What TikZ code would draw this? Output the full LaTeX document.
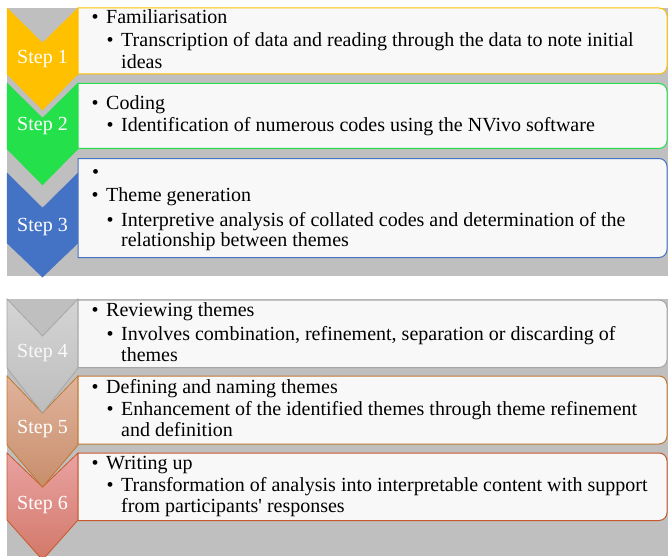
\documentclass[tikz,border=0pt]{standalone}
\usepackage{fontspec}
\setmainfont{Liberation Serif}
\definecolor{bggray}{HTML}{BFBFBF}
\definecolor{boxfill}{HTML}{F8F8F8}
\definecolor{cyellow}{HTML}{FFC000}
\definecolor{cgreen}{HTML}{24E04A}
\definecolor{cblue}{HTML}{4472C4}
\definecolor{cgrayA}{HTML}{D4D4D4}
\definecolor{cgrayB}{HTML}{BDBDBD}
\definecolor{cgrayL}{HTML}{A6A6A6}
\definecolor{ctanA}{HTML}{E0B39C}
\definecolor{ctanB}{HTML}{C88E6C}
\definecolor{ctanL}{HTML}{C07830}
\definecolor{credA}{HTML}{E9A2A2}
\definecolor{credB}{HTML}{D27868}
\definecolor{credL}{HTML}{C8582C}
\newcommand\chevshape[5]{%
  \draw[#5] (7,#1) -- (42.5,#2) -- (78,#1) -- (78,#3) -- (42.5,#4) -- (7,#3) -- cycle;}
\newcommand\roundbox[3]{%
  \draw[boxstyle,draw=#3] (78,#1) -- (659,#1) arc[start angle=90,end angle=0,radius=8pt]
    -- (667,#2-8) arc[start angle=0,end angle=-90,radius=8pt] -- (78,#2) -- cycle;}
\newcommand\bl{\makebox[0pt][r]{•\hspace{7.5pt}}}
\begin{document}
\begin{tikzpicture}[x=1pt,y=-1pt,
  boxstyle/.style={fill=boxfill,line width=1pt},
  txt/.style={inner sep=0pt,anchor=base west,font=\fontsize{20}{20.6}\selectfont},
  steplabel/.style={inner sep=0pt,anchor=base,text=white,font=\fontsize{20}{20.6}\selectfont}]
\useasboundingbox (0,0) rectangle (668,556);
\fill[white] (0,0) rectangle (668,556);
\fill[bggray] (7,8) rectangle (668,276);
\fill[bggray] (7,299) rectangle (668,556);
% lower panel chevrons (earlier on top)
\chevshape{453}{487}{520}{560}{top color=credA,bottom color=credB,draw=credL,line width=0.8pt}
\chevshape{376}{413}{445}{487}{top color=ctanA,bottom color=ctanB,draw=ctanL,line width=0.8pt}
\chevshape{299}{336}{368}{413}{top color=cgrayA,bottom color=cgrayB,draw=cgrayL,line width=0.8pt}
% upper panel chevrons
\chevshape{173}{208}{243}{277}{fill=cblue,draw=cblue}
\chevshape{83}{118}{149}{185}{fill=cgreen,draw=cgreen}
\chevshape{8}{43}{74}{110}{fill=cyellow,draw=cyellow}
% boxes
\roundbox{8}{74}{cyellow}
\roundbox{83.5}{148.5}{cgreen}
\roundbox{158.5}{257.5}{cblue}
\roundbox{300}{367.5}{cgrayL}
\roundbox{376}{444}{ctanL}
\roundbox{453}{520.5}{credL}
% step labels
\node[steplabel] (s1) at (42.5,64) {Step 1};
\node[steplabel] (s2) at (42.5,131) {Step 2};
\node[steplabel] (s3) at (42.5,231) {Step 3};
\node[steplabel,text=white!95!gray] (s4) at (42.5,357) {Step 4};
\node[steplabel] (s5) at (42.5,433.5) {Step 5};
\node[steplabel] (s6) at (42.5,509.5) {Step 6};
% texts
\node[txt] (t1a) at (106,23.3) {\bl Familiarisation};
\node[txt] (t1b) at (121,46.7) {\bl Transcription of data and reading through the data to note initial};
\node[txt] (t1c) at (121,68.3) {ideas};
\node[txt] (t2a) at (106,110) {\bl Coding};
\node[txt] (t2b) at (121,131.7) {\bl Identification of numerous codes using the NVivo software};
\node[txt] (t3a) at (106,178) {\bl\strut};
\node[txt] (t3b) at (106,201.5) {\bl Theme generation};
\node[txt] (t3c) at (121,226) {\bl Interpretive analysis of collated codes and determination of the};
\node[txt] (t3d) at (121,246.5) {relationship between themes};
\node[txt] (t4a) at (106,316.5) {\bl Reviewing themes};
\node[txt] (t4b) at (121,340) {\bl Involves combination, refinement, separation or discarding of};
\node[txt] (t4c) at (121,361) {themes};
\node[txt] (t5a) at (106,393) {\bl Defining and naming themes};
\node[txt] (t5b) at (121,415) {\bl Enhancement of the identified themes through theme refinement};
\node[txt] (t5c) at (121,436.5) {and definition};
\node[txt] (t6a) at (106,469) {\bl Writing up};
\node[txt] (t6b) at (121,491.7) {\bl Transformation of analysis into interpretable content with support};
\node[txt] (t6c) at (121,512) {from participants\textquotesingle{} responses};
\end{tikzpicture}
\end{document}
